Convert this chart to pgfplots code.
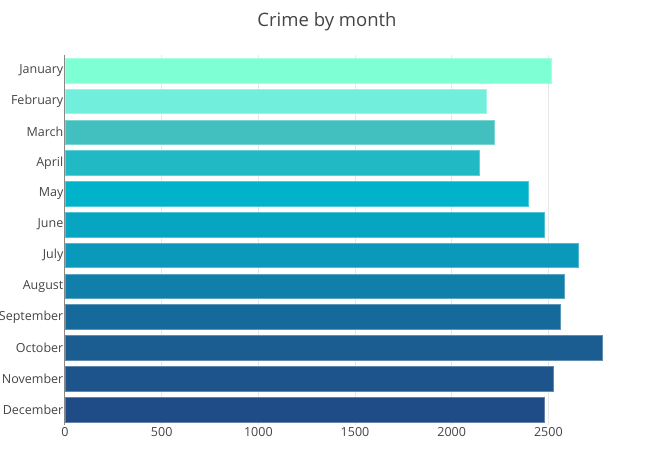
\documentclass[border=0pt]{standalone}
\usepackage{pgfplots}
\pgfplotsset{compat=1.18}
\usepackage{fontspec}
\setmainfont{Open Sans}

\definecolor{txt}{HTML}{444444}
\definecolor{gridc}{HTML}{E8E8E8}
\definecolor{zl}{HTML}{888888}
\definecolor{m1}{RGB}{127,255,212}
\definecolor{m2}{RGB}{114,238,220}
\definecolor{m3}{RGB}{66,192,191}
\definecolor{m4}{RGB}{32,185,196}
\definecolor{m5}{RGB}{0,179,202}
\definecolor{m6}{RGB}{6,165,193}
\definecolor{m7}{RGB}{10,153,186}
\definecolor{m8}{RGB}{16,128,170}
\definecolor{m9}{RGB}{22,105,155}
\definecolor{m10}{RGB}{27,93,144}
\definecolor{m11}{RGB}{29,84,139}
\definecolor{m12}{RGB}{31,76,135}

\begin{document}
\begin{tikzpicture}
\useasboundingbox (0pt,0pt) rectangle (654pt,-450pt);
\node[font=\fontsize{18.5}{22}\selectfont, text=txt] at (327pt,-21.5pt) {Crime by month};
\begin{axis}[
    at={(65pt,-424.8pt)}, anchor=south west,
    width=563.6pt, height=369.8pt, scale only axis,
    xmin=0, xmax=2915,
    ymin=-0.5, ymax=11.5, y dir=reverse,
    xbar, bar width=0.8, bar shift=0,
    axis x line=bottom, axis y line=left,
    x axis line style={draw=none},
    y axis line style={draw=zl, line width=1pt, -},
    xmajorgrids, grid style={gridc, line width=1pt},
    major tick length=0pt,
    xtick={0,500,1000,1500,2000,2500},
    ytick={0,...,11},
    yticklabels={January,February,March,April,May,June,July,August,September,October,November,December},
    ticklabel style={font=\fontsize{12.5}{14}\selectfont, text=txt},
    yticklabel style={inner sep=0pt, xshift=-1.5pt},
    xticklabel style={inner sep=0pt, yshift=-2pt},
    /pgf/number format/assume math mode=true,
    /pgf/number format/1000 sep={},
    scaled x ticks=false,
    clip=false,
]
\addplot[fill=m1, draw=m1!70!white] coordinates {(2515,0)};
\addplot[fill=m2, draw=m2!70!white] coordinates {(2181,1)};
\addplot[fill=m3, draw=m3!70!white] coordinates {(2219,2)};
\addplot[fill=m4, draw=m4!70!white] coordinates {(2143,3)};
\addplot[fill=m5, draw=m5!70!white] coordinates {(2395,4)};
\addplot[fill=m6, draw=m6!70!white] coordinates {(2481,5)};
\addplot[fill=m7, draw=m7!70!white] coordinates {(2655,6)};
\addplot[fill=m8, draw=m8!70!white] coordinates {(2583,7)};
\addplot[fill=m9, draw=m9!70!white] coordinates {(2562,8)};
\addplot[fill=m10, draw=m10!70!white] coordinates {(2776,9)};
\addplot[fill=m11, draw=m11!70!white] coordinates {(2524,10)};
\addplot[fill=m12, draw=m12!70!white] coordinates {(2481,11)};
\end{axis}
\end{tikzpicture}
\end{document}
